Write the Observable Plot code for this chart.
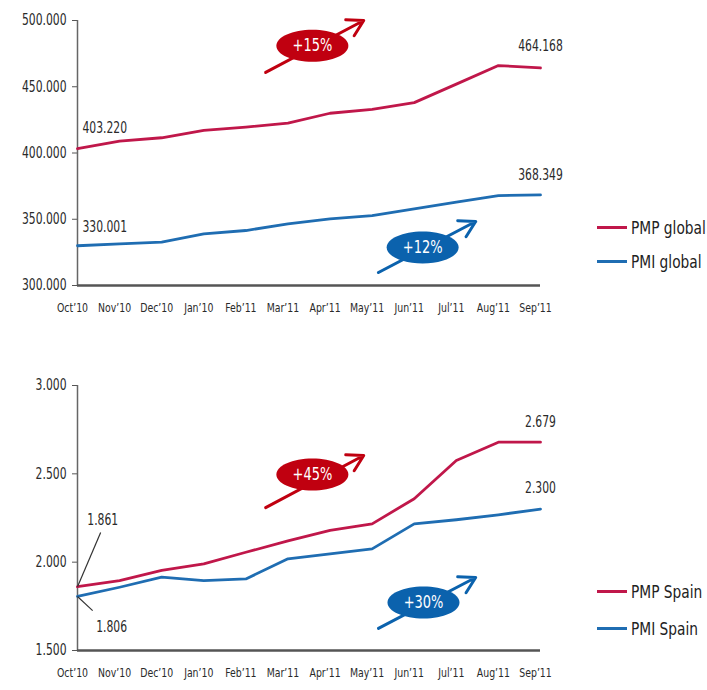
<!DOCTYPE html>
<html>
<head>
<meta charset="utf-8">
<script src="https://cdn.jsdelivr.net/npm/d3@7"></script>
<script src="https://cdn.jsdelivr.net/npm/@observablehq/plot@0.6"></script>
<style>
  html, body { margin: 0; padding: 0; background: #fff; }
  #wrap { position: relative; width: 707px; height: 690px; font-family: "DejaVu Sans Condensed", "DejaVu Sans", sans-serif; }
  #wrap svg { display: block; font-family: "DejaVu Sans Condensed", "DejaVu Sans", sans-serif; }
  .leg { position: absolute; display: flex; align-items: center; font-size: 18px; color: #222; white-space: nowrap; }
  .leg .sw { width: 30px; height: 3px; margin-right: 4px; flex: none; }
  .leg .tx { display: inline-block; transform: scaleX(0.85); transform-origin: 0 50%; }
</style>
</head>
<body>
<div id="wrap"></div>
<script>
// ---- data ----
const months = ["Oct’10","Nov’10","Dec’10","Jan’10","Feb’11","Mar’11","Apr’11","May’11","Jun’11","Jul’11","Aug’11","Sep’11"];

const pmpGlobal = [403220, 409000, 411500, 417000, 419500, 422500, 430000, 433000, 438000, 452000, 466000, 464168];
const pmiGlobal = [330001, 331400, 332700, 339000, 341500, 346500, 350300, 352800, 357900, 362900, 367900, 368349];
const pmpSpain  = [1861, 1896, 1953, 1990, 2056, 2120, 2180, 2217, 2359, 2575, 2679, 2679];
const pmiSpain  = [1806, 1858, 1915, 1896, 1905, 2019, 2047, 2075, 2217, 2240, 2268, 2300];

const globalTicks = [300000, 350000, 400000, 450000, 500000];
const spainTicks  = [1500, 2000, 2500, 3000];

const seriesNamesGlobal = ["PMP global", "PMI global"];
const seriesNamesSpain  = ["PMP Spain", "PMI Spain"];

// growth badges (in data units: month index, value)
const globalBadgeText = ["+15%", "+12%"];
const globalBadgeX = [5.58, 8.2];
const globalBadgeY = [481000, 328700];
const globalArrowX1 = [4.47, 7.15], globalArrowY1 = [460800, 309800];
const globalArrowX2 = [6.80, 9.46], globalArrowY2 = [500000, 348300];

const spainBadgeText = ["+45%", "+30%"];
const spainBadgeX = [5.58, 8.22];
const spainBadgeY = [2496, 1772];
const spainArrowX1 = [4.47, 7.15], spainArrowY1 = [2309, 1625];
const spainArrowX2 = [6.80, 9.46], spainArrowY2 = [2604, 1913];

// leader label positions for Spain start values (data units)
const spainStartLabelX = [0.6, 0.81];
const spainStartLabelY = [2236, 1630];
const spainLeaderEndX = [0.55, 0.36];
const spainLeaderEndY = [2168, 1726];

// ---- styles ----
const RED_LINE = "#c0174a", BLUE_LINE = "#1f6db2";
const RED_BADGE = "#c00010", BLUE_BADGE = "#0b62ad";
const FONT = "'DejaVu Sans Condensed', 'DejaVu Sans', sans-serif";
const NARROW = 0.8;

const loc = d3.formatLocale({decimal: ",", thousands: ".", grouping: [3], currency: ["", ""]});
const fmt = loc.format(",d");

const ellipse = {
  draw(ctx) {
    const rx = 36, ry = 16, k = 0.5523;
    ctx.moveTo(rx, 0);
    ctx.bezierCurveTo(rx, ry * k, rx * k, ry, 0, ry);
    ctx.bezierCurveTo(-rx * k, ry, -rx, ry * k, -rx, 0);
    ctx.bezierCurveTo(-rx, -ry * k, -rx * k, -ry, 0, -ry);
    ctx.bezierCurveTo(rx * k, -ry, rx, -ry * k, rx, 0);
    ctx.closePath();
  }
};

function rows(a, b) {
  return months.map((m, i) => ({i, a: a[i], b: b[i]}));
}

function badges(text, bx, by, x1, y1, x2, y2, color) {
  const d = text.map((t, k) => ({t, x: bx[k], y: by[k], x1: x1[k], y1: y1[k], x2: x2[k], y2: y2[k], c: color[k]}));
  return [
    Plot.arrow(d, {x1: "x1", y1: "y1", x2: "x2", y2: "y2", stroke: "c", strokeWidth: 3, headLength: 9, bend: 0}),
    Plot.dot(d, {x: "x", y: "y", symbol: ellipse, fill: "c", stroke: "none", r: 10}),
    Plot.text(d, {x: "x", y: "y", text: "t", fill: "white", fontSize: 18, fontFamily: FONT})
  ];
}

function chart({a, b, domain, ticks, height, marginTop, marginBottom, extraMarks}) {
  const data = rows(a, b);
  return Plot.plot({
    width: 707, height, marginLeft: 77, marginRight: 167, marginTop, marginBottom,
    style: {fontFamily: FONT, color: "#2a2a2a", background: "transparent"},
    x: {type: "linear", domain: [0, 11]},
    y: {domain},
    color: {type: "identity"},
    marks: [
      Plot.axisY({ticks, tickFormat: fmt, tickSize: 5, tickPadding: 6, fontSize: 15, label: null, stroke: "#555"}),
      Plot.axisX({ticks: d3.range(12), tickFormat: i => months[i], tickSize: 0, tickPadding: 17, fontSize: 13, label: null, dx: -5}),
      Plot.ruleX([0], {stroke: "#666", strokeWidth: 1.5}),
      Plot.ruleY([domain[0]], {stroke: "#555", strokeWidth: 2.5}),
      Plot.line(data, {x: "i", y: "a", stroke: RED_LINE, strokeWidth: 2.8}),
      Plot.line(data, {x: "i", y: "b", stroke: BLUE_LINE, strokeWidth: 2.8}),
      ...extraMarks(data)
    ]
  });
}

const wrap = document.getElementById("wrap");

const topChart = chart({
  a: pmpGlobal, b: pmiGlobal, domain: [300000, 500000], ticks: globalTicks,
  height: 320, marginTop: 20, marginBottom: 35,
  extraMarks: data => [
    Plot.text([data[0]], {x: "i", y: "a", text: d => fmt(d.a), textAnchor: "start", dx: 5, dy: -21, fontSize: 15, fill: "#2a2a2a"}),
    Plot.text([data[0]], {x: "i", y: "b", text: d => fmt(d.b), textAnchor: "start", dx: 5, dy: -19, fontSize: 15, fill: "#2a2a2a"}),
    Plot.text([data[11]], {x: "i", y: "a", text: d => fmt(d.a), dy: -22, fontSize: 15, fill: "#2a2a2a"}),
    Plot.text([data[11]], {x: "i", y: "b", text: d => fmt(d.b), dy: -20, fontSize: 15, fill: "#2a2a2a"}),
    ...badges(globalBadgeText, globalBadgeX, globalBadgeY, globalArrowX1, globalArrowY1, globalArrowX2, globalArrowY2, [RED_BADGE, BLUE_BADGE])
  ]
});

const bottomChart = chart({
  a: pmpSpain, b: pmiSpain, domain: [1500, 3000], ticks: spainTicks,
  height: 370, marginTop: 65, marginBottom: 40,
  extraMarks: data => {
    const starts = [
      {x0: 0, y0: pmpSpain[0], x1: spainLeaderEndX[0], y1: spainLeaderEndY[0], lx: spainStartLabelX[0], ly: spainStartLabelY[0], v: pmpSpain[0]},
      {x0: 0, y0: pmiSpain[0], x1: spainLeaderEndX[1], y1: spainLeaderEndY[1], lx: spainStartLabelX[1], ly: spainStartLabelY[1], v: pmiSpain[0]}
    ];
    return [
      Plot.link(starts, {x1: "x0", y1: "y0", x2: "x1", y2: "y1", stroke: "#333", strokeWidth: 1.2}),
      Plot.text(starts, {x: "lx", y: "ly", text: d => fmt(d.v), fontSize: 15, fill: "#2a2a2a"}),
      Plot.text([data[11]], {x: "i", y: "a", text: d => fmt(d.a), dy: -20, fontSize: 15, fill: "#2a2a2a"}),
      Plot.text([data[11]], {x: "i", y: "b", text: d => fmt(d.b), dy: -21, fontSize: 15, fill: "#2a2a2a"}),
      ...badges(spainBadgeText, spainBadgeX, spainBadgeY, spainArrowX1, spainArrowY1, spainArrowX2, spainArrowY2, [RED_BADGE, BLUE_BADGE])
    ];
  }
});

wrap.appendChild(topChart);
wrap.appendChild(bottomChart);

// condense text horizontally (reference uses a narrow typeface)
for (const svg of [topChart, bottomChart]) {
  svg.querySelectorAll("text").forEach(t => {
    const len = t.getComputedTextLength();
    if (len > 0) {
      t.setAttribute("textLength", (len * NARROW).toFixed(1));
      t.setAttribute("lengthAdjust", "spacingAndGlyphs");
    }
  });
}

function legend(names, yTops) {
  [RED_LINE, BLUE_LINE].forEach((c, k) => {
    const el = document.createElement("div");
    el.className = "leg";
    el.style.left = "597px";
    el.style.top = (yTops[k] - 12) + "px";
    el.style.height = "24px";
    el.innerHTML = `<span class="sw" style="background:${c}"></span><span class="tx">${names[k]}</span>`;
    wrap.appendChild(el);
  });
}
legend(seriesNamesGlobal, [227, 261]);
legend(seriesNamesSpain, [591, 628]);
</script>
</body>
</html>
